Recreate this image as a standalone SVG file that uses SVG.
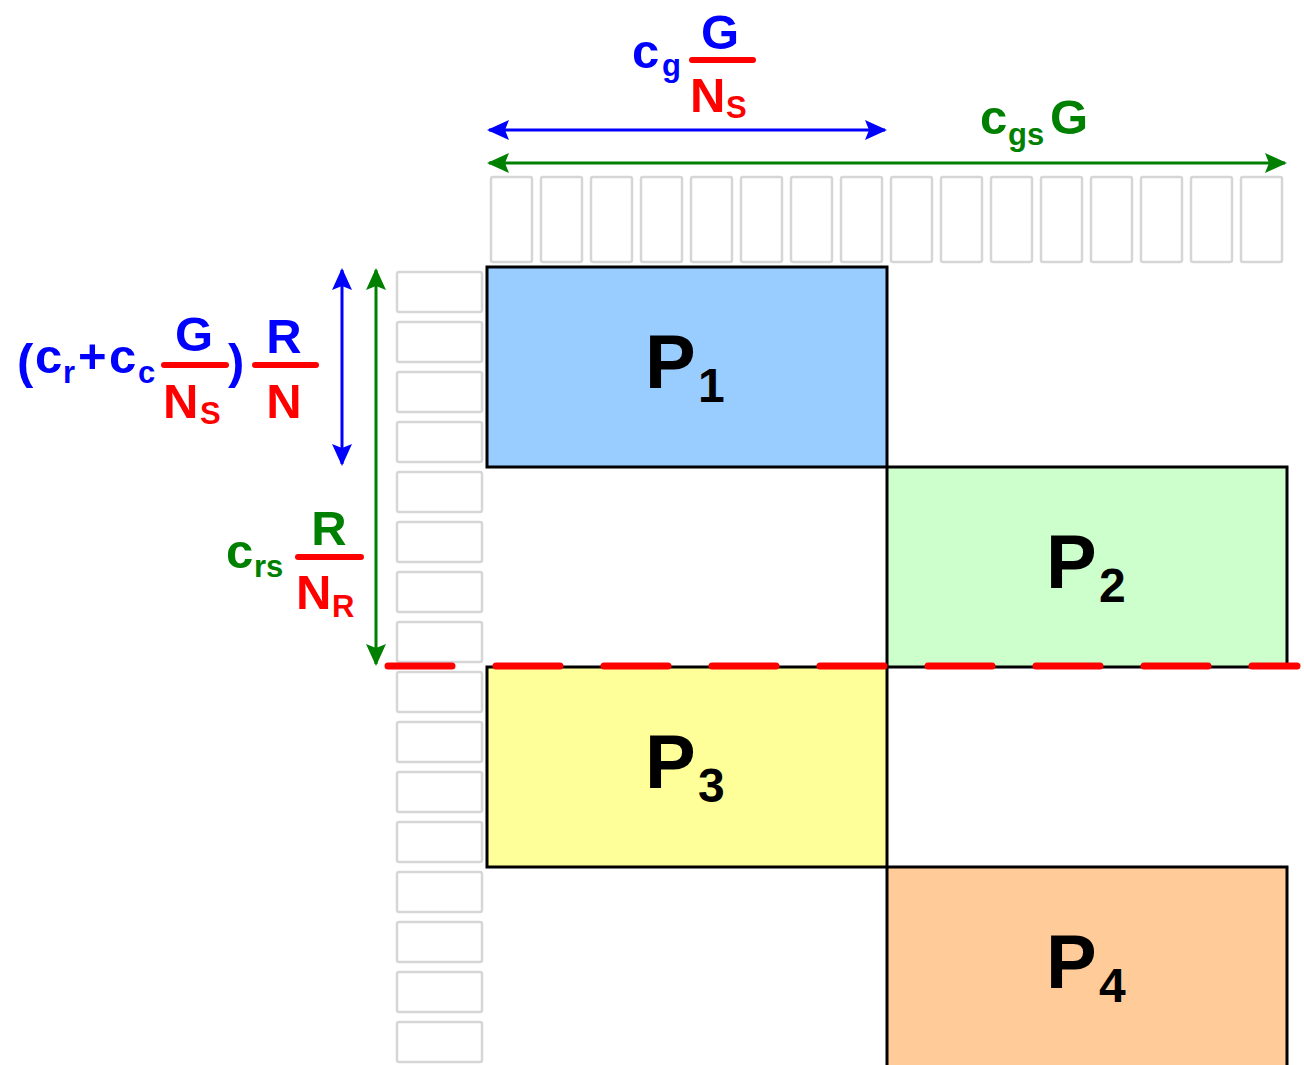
<svg xmlns="http://www.w3.org/2000/svg" width="1304" height="1065" viewBox="0 0 1304 1065">
  <defs>
    <style>
      .cell { fill: #ffffff; stroke: #d6d6d6; stroke-width: 2.5; }
      .blk { stroke: #000000; stroke-width: 3; }
      .lbl { font-family: "Liberation Sans", Arial, sans-serif; font-weight: bold; }
      .big { font-size: 76px; fill: #000000; }
      .bsub { font-size: 48px; fill: #000000; }
      .f { font-size: 49px; }
      .s { font-size: 31px; }
      .blue { fill: #0000ff; }
      .red { fill: #ff0000; }
      .green { fill: #008000; }
      .bar { stroke: #ff0000; stroke-width: 6; stroke-linecap: round; }
    </style>
    <marker id="ab" viewBox="0 0 22 20" refX="20" refY="10" markerWidth="22" markerHeight="20" markerUnits="userSpaceOnUse" orient="auto-start-reverse">
      <path d="M0,0 L22,10 L0,20 L4,10 Z" fill="#0000ff"/>
    </marker>
    <marker id="ag" viewBox="0 0 22 20" refX="20" refY="10" markerWidth="22" markerHeight="20" markerUnits="userSpaceOnUse" orient="auto-start-reverse">
      <path d="M0,0 L22,10 L0,20 L4,10 Z" fill="#008000"/>
    </marker>
  </defs>

  <rect width="1304" height="1065" fill="#ffffff"/>

  <!-- column cells along the top -->
  <g id="top-cells">
    <rect class="cell" x="491" y="177" width="41" height="85" rx="2"/>
    <rect class="cell" x="541" y="177" width="41" height="85" rx="2"/>
    <rect class="cell" x="591" y="177" width="41" height="85" rx="2"/>
    <rect class="cell" x="641" y="177" width="41" height="85" rx="2"/>
    <rect class="cell" x="691" y="177" width="41" height="85" rx="2"/>
    <rect class="cell" x="741" y="177" width="41" height="85" rx="2"/>
    <rect class="cell" x="791" y="177" width="41" height="85" rx="2"/>
    <rect class="cell" x="841" y="177" width="41" height="85" rx="2"/>
    <rect class="cell" x="891" y="177" width="41" height="85" rx="2"/>
    <rect class="cell" x="941" y="177" width="41" height="85" rx="2"/>
    <rect class="cell" x="991" y="177" width="41" height="85" rx="2"/>
    <rect class="cell" x="1041" y="177" width="41" height="85" rx="2"/>
    <rect class="cell" x="1091" y="177" width="41" height="85" rx="2"/>
    <rect class="cell" x="1141" y="177" width="41" height="85" rx="2"/>
    <rect class="cell" x="1191" y="177" width="41" height="85" rx="2"/>
    <rect class="cell" x="1241" y="177" width="41" height="85" rx="2"/>
  </g>

  <!-- row cells down the left -->
  <g id="left-cells">
    <rect class="cell" x="397" y="272" width="85" height="40" rx="2"/>
    <rect class="cell" x="397" y="322" width="85" height="40" rx="2"/>
    <rect class="cell" x="397" y="372" width="85" height="40" rx="2"/>
    <rect class="cell" x="397" y="422" width="85" height="40" rx="2"/>
    <rect class="cell" x="397" y="472" width="85" height="40" rx="2"/>
    <rect class="cell" x="397" y="522" width="85" height="40" rx="2"/>
    <rect class="cell" x="397" y="572" width="85" height="40" rx="2"/>
    <rect class="cell" x="397" y="622" width="85" height="40" rx="2"/>
    <rect class="cell" x="397" y="672" width="85" height="40" rx="2"/>
    <rect class="cell" x="397" y="722" width="85" height="40" rx="2"/>
    <rect class="cell" x="397" y="772" width="85" height="40" rx="2"/>
    <rect class="cell" x="397" y="822" width="85" height="40" rx="2"/>
    <rect class="cell" x="397" y="872" width="85" height="40" rx="2"/>
    <rect class="cell" x="397" y="922" width="85" height="40" rx="2"/>
    <rect class="cell" x="397" y="972" width="85" height="40" rx="2"/>
    <rect class="cell" x="397" y="1022" width="85" height="40" rx="2"/>
  </g>

  <!-- partition blocks -->
  <g id="P1">
    <rect class="blk" x="487" y="267" width="400" height="200" fill="#99ccff"/>
    <text class="lbl big" x="645" y="388">P</text>
    <text class="lbl bsub" x="698" y="402">1</text>
  </g>
  <g id="P2">
    <rect class="blk" x="887" y="467" width="400" height="200" fill="#ccffcc"/>
    <text class="lbl big" x="1046" y="588">P</text>
    <text class="lbl bsub" x="1099" y="602">2</text>
  </g>
  <g id="P3">
    <rect class="blk" x="487" y="667" width="400" height="200" fill="#ffff99"/>
    <text class="lbl big" x="645" y="788">P</text>
    <text class="lbl bsub" x="698" y="802">3</text>
  </g>
  <g id="P4">
    <rect class="blk" x="887" y="867" width="400" height="210" fill="#ffcc99"/>
    <text class="lbl big" x="1046" y="988">P</text>
    <text class="lbl bsub" x="1099" y="1002">4</text>
  </g>

  <!-- dimension arrows and the split line -->
  <g id="connectors" fill="none">
    <line x1="489" y1="130" x2="885" y2="130" stroke="#0000ff" stroke-width="3" marker-start="url(#ab)" marker-end="url(#ab)"/>
    <line x1="489" y1="163" x2="1285" y2="163" stroke="#008000" stroke-width="3" marker-start="url(#ag)" marker-end="url(#ag)"/>
    <line x1="342" y1="270" x2="342" y2="464" stroke="#0000ff" stroke-width="3" marker-start="url(#ab)" marker-end="url(#ab)"/>
    <line x1="376" y1="270" x2="376" y2="664" stroke="#008000" stroke-width="3" marker-start="url(#ag)" marker-end="url(#ag)"/>
    <line x1="388" y1="666" x2="1297" y2="666" stroke="#ff0000" stroke-width="7" stroke-linecap="round" stroke-dasharray="64 44"/>
  </g>

  <!-- top label: c_g G/N_S -->
  <g id="label-cg">
    <text class="lbl f blue" x="632" y="68">c</text>
    <text class="lbl s blue" x="662" y="76">g</text>
    <text class="lbl f blue" x="720" y="49" text-anchor="middle">G</text>
    <line class="bar" x1="692" y1="60" x2="753" y2="60"/>
    <text class="lbl f red" x="690" y="112">N</text>
    <text class="lbl s red" x="726" y="118">S</text>
  </g>

  <!-- top label: c_gs G -->
  <g id="label-cgs">
    <text class="lbl f green" x="980" y="134">c</text>
    <text class="lbl s green" x="1008" y="145">gs</text>
    <text class="lbl f green" x="1050" y="134">G</text>
  </g>

  <!-- left label: (c_r + c_c G/N_S) R/N -->
  <g id="label-rows">
    <text class="lbl f blue" x="17" y="378">(</text>
    <text class="lbl f blue" x="35" y="373">c</text>
    <text class="lbl s blue" x="63" y="383">r</text>
    <text class="lbl f blue" x="78" y="373">+</text>
    <text class="lbl f blue" x="109" y="373">c</text>
    <text class="lbl s blue" x="138" y="383">c</text>
    <text class="lbl f blue" x="194" y="351" text-anchor="middle">G</text>
    <line class="bar" x1="164" y1="365" x2="226" y2="365"/>
    <text class="lbl f red" x="163" y="418">N</text>
    <text class="lbl s red" x="200" y="424">S</text>
    <text class="lbl f blue" x="228" y="378">)</text>
    <line class="bar" x1="255" y1="365" x2="316" y2="365"/>
    <text class="lbl f blue" x="284" y="353" text-anchor="middle">R</text>
    <text class="lbl f red" x="284" y="418" text-anchor="middle">N</text>
  </g>

  <!-- left label: c_rs R/N_R -->
  <g id="label-crs">
    <text class="lbl f green" x="226" y="568">c</text>
    <text class="lbl s green" x="254" y="577">rs</text>
    <text class="lbl f green" x="329" y="545" text-anchor="middle">R</text>
    <line class="bar" x1="298" y1="557" x2="361" y2="557"/>
    <text class="lbl f red" x="296" y="609">N</text>
    <text class="lbl s red" x="332" y="617">R</text>
  </g>
</svg>
